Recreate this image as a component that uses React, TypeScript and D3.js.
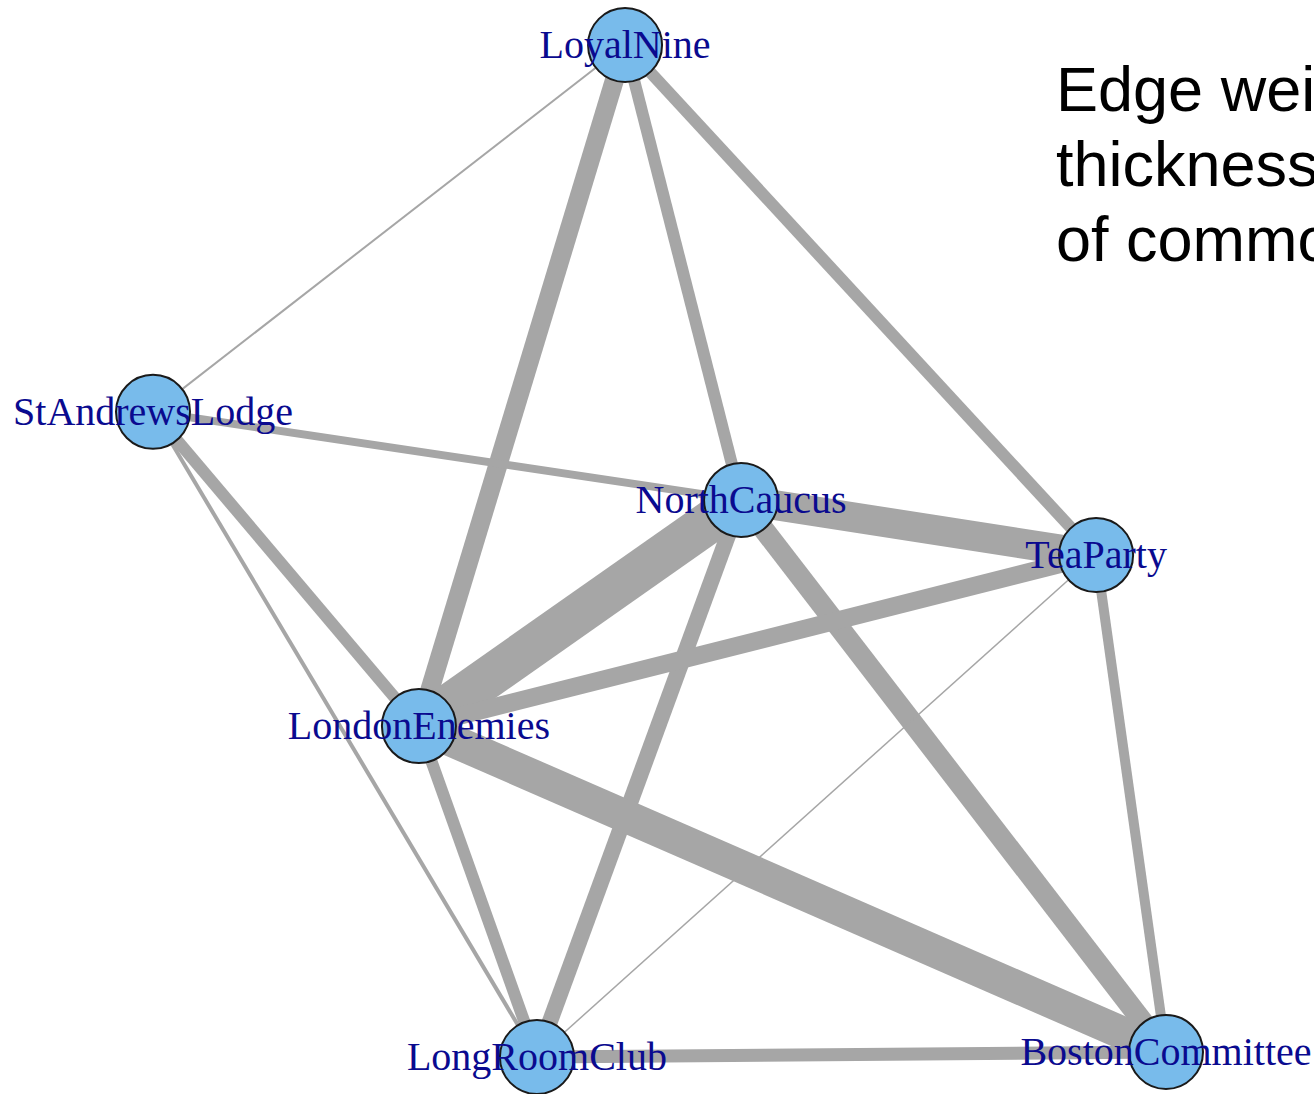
import React, { useEffect, useRef } from 'react';
import * as d3 from 'd3';

// node layout (igraph-style coords, -1..1)
const nodeNames = ['LoyalNine', 'StAndrewsLodge', 'NorthCaucus', 'TeaParty', 'LondonEnemies', 'LongRoomClub', 'BostonCommittee'];
const nodeX = [-0.068, -1, 0.161, 0.862, -0.475, -0.242, 1];
const nodeY = [1, 0.275, 0.101, -0.008, -0.346, -1, -0.99];

const edgeFrom = ['LoyalNine', 'LoyalNine', 'LoyalNine', 'LoyalNine', 'StAndrewsLodge', 'StAndrewsLodge', 'StAndrewsLodge', 'NorthCaucus', 'NorthCaucus', 'NorthCaucus', 'NorthCaucus', 'TeaParty', 'TeaParty', 'TeaParty', 'LondonEnemies', 'LondonEnemies', 'LongRoomClub'];
const edgeTo = ['StAndrewsLodge', 'LondonEnemies', 'NorthCaucus', 'TeaParty', 'NorthCaucus', 'LondonEnemies', 'LongRoomClub', 'TeaParty', 'LondonEnemies', 'LongRoomClub', 'BostonCommittee', 'LondonEnemies', 'LongRoomClub', 'BostonCommittee', 'LongRoomClub', 'BostonCommittee', 'BostonCommittee'];
const edgeWeight = [2, 19, 12, 12, 8, 12, 4, 30, 42, 16, 21, 18, 1.5, 10, 12, 33, 13];

const noteLines = ['Edge weight =', 'thickness = number', 'of common members'];

export default function App() {
  const ref = useRef<SVGSVGElement>(null);

  useEffect(() => {
    const width = 1314;
    const height = 1094;
    const svg = d3.select(ref.current);
    svg.selectAll('*').remove();

    const x = d3.scaleLinear().domain([-1, 1]).range([153, 1166]);
    const y = d3.scaleLinear().domain([-1, 1]).range([1057, 45]);
    const w = d3.scaleLinear().domain([0, 40]).range([0, 40]);

    const nodes = nodeNames.map((name, i) => ({ name, x: x(nodeX[i]), y: y(nodeY[i]) }));
    const byName = new Map(nodes.map((n) => [n.name, n]));
    const edges = edgeFrom.map((s, i) => ({ s: byName.get(s)!, t: byName.get(edgeTo[i])!, weight: edgeWeight[i] }));

    svg.append('g')
      .selectAll('line')
      .data(edges)
      .enter()
      .append('line')
      .attr('x1', (d) => d.s.x)
      .attr('y1', (d) => d.s.y)
      .attr('x2', (d) => d.t.x)
      .attr('y2', (d) => d.t.y)
      .attr('stroke', '#a6a6a6')
      .attr('stroke-width', (d) => w(d.weight));

    svg.append('g')
      .selectAll('circle')
      .data(nodes)
      .enter()
      .append('circle')
      .attr('cx', (d) => d.x)
      .attr('cy', (d) => d.y)
      .attr('r', 37)
      .attr('fill', '#78bbeb')
      .attr('stroke', '#1a1a1a')
      .attr('stroke-width', 2);

    svg.append('g')
      .selectAll('text')
      .data(nodes)
      .enter()
      .append('text')
      .attr('x', (d) => d.x)
      .attr('y', (d) => d.y + 13)
      .attr('text-anchor', 'middle')
      .attr('font-family', '"Liberation Serif", "Times New Roman", serif')
      .attr('font-size', 40)
      .attr('fill', '#0a0a8f')
      .text((d) => d.name);

    // note on the right, cut by the picture edge as in the original slide
    svg.append('g')
      .selectAll('text')
      .data(noteLines)
      .enter()
      .append('text')
      .attr('x', 1056)
      .attr('y', (d, i) => 111 + i * 75)
      .attr('font-family', '"Liberation Sans", Arial, sans-serif')
      .attr('font-size', 63)
      .attr('fill', '#000')
      .text((d) => d);

    svg.attr('width', width).attr('height', height);
  }, []);

  return (
    <div style={{ position: 'absolute', left: 0, top: 0, width: 1314, height: 1094, overflow: 'hidden', background: '#fff' }}>
      <svg ref={ref} style={{ display: 'block' }} />
    </div>
  );
}
